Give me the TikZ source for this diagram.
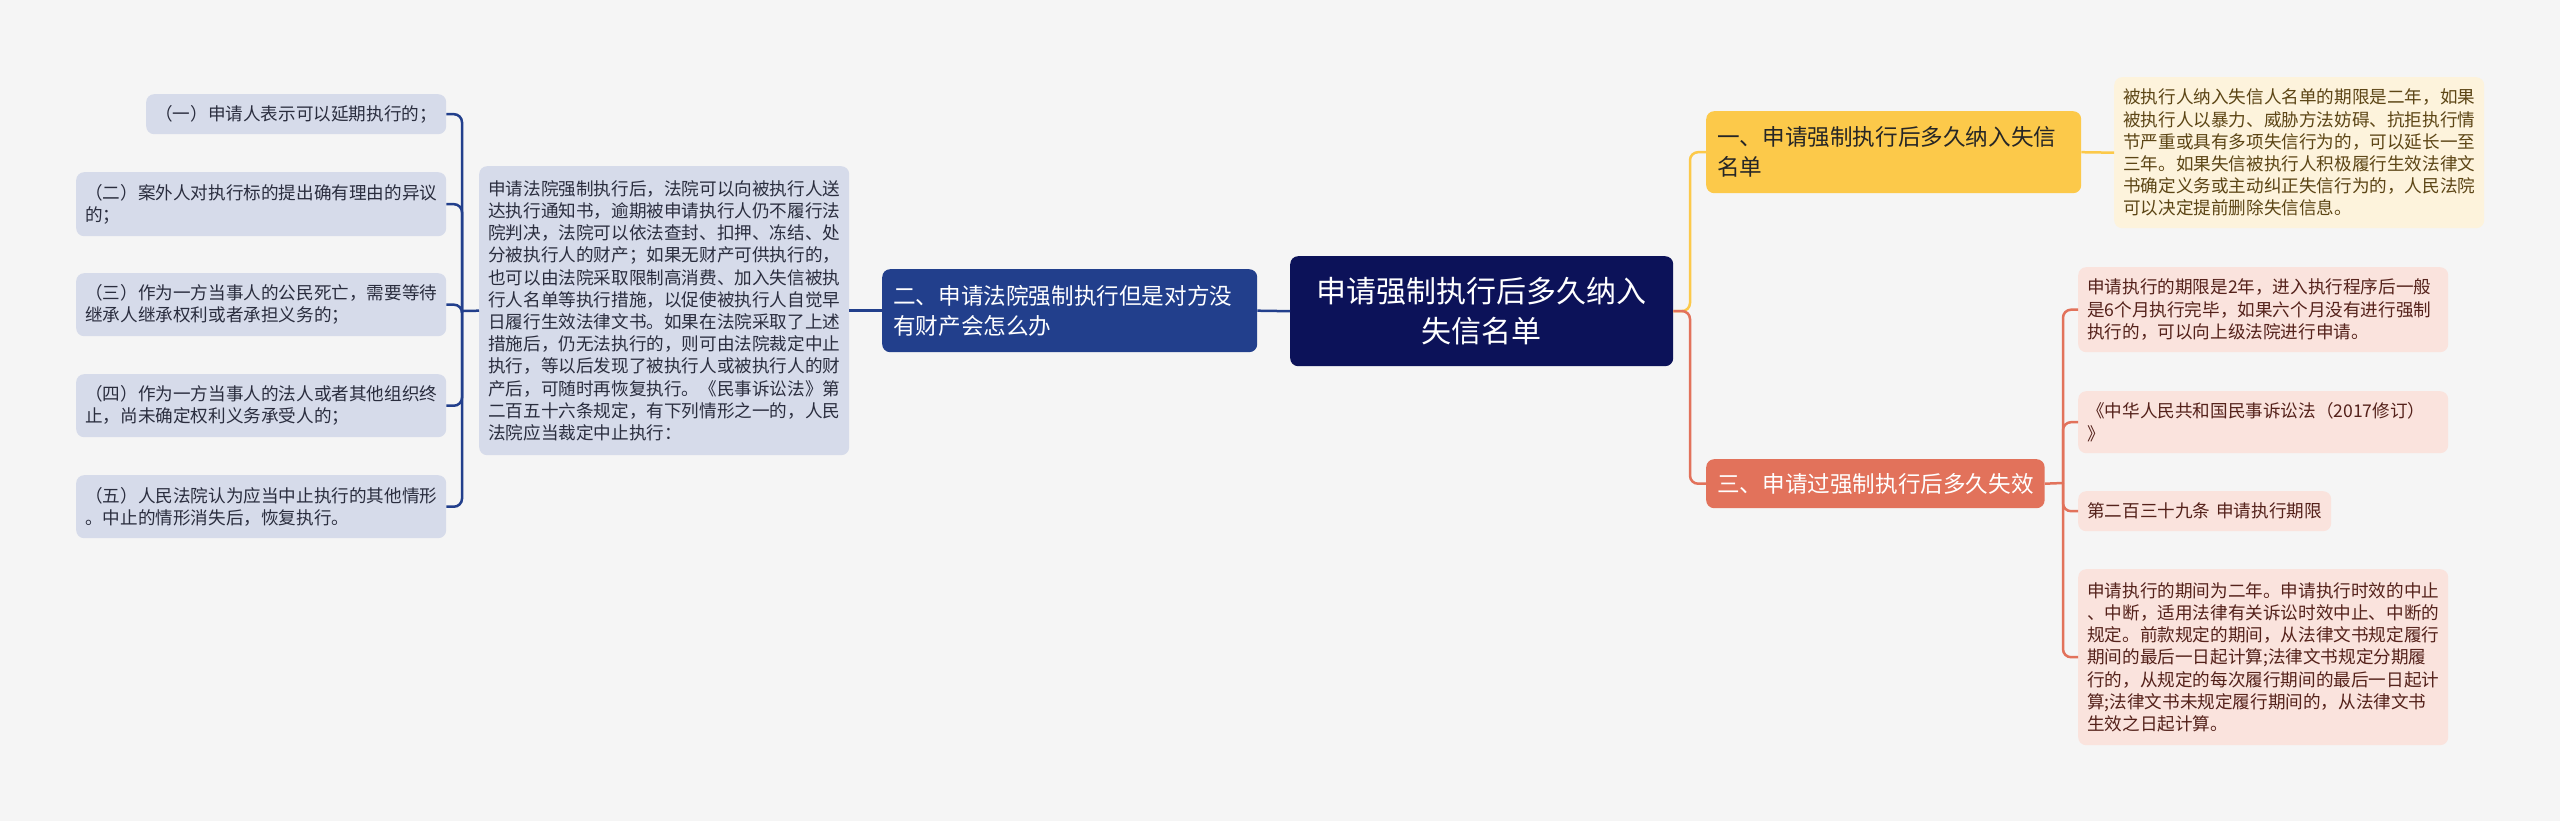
\documentclass[tikz,border=0pt]{standalone}
\usepackage{fontspec}
\setmainfont{Noto Sans CJK SC}
\definecolor{bg}{HTML}{F5F5F5}
\definecolor{navy}{HTML}{0C1259}
\definecolor{bluebr}{HTML}{223F8C}
\definecolor{lav}{HTML}{D6DBEA}
\definecolor{lavtxt}{HTML}{2A2D3E}
\definecolor{ybr}{HTML}{FCC94A}
\definecolor{yleaf}{HTML}{FDF3DC}
\definecolor{ytxt}{HTML}{5C4515}
\definecolor{rbr}{HTML}{E2725B}
\definecolor{rleaf}{HTML}{FAE3DD}
\definecolor{rtxt}{HTML}{54211A}
\begin{document}
\begin{tikzpicture}[x=1pt,y=-1pt,
  box/.style={rounded corners=8pt, inner ysep=0pt, inner xsep=9pt, anchor=north west, align=left},
  small/.style={font=\fontsize{17.6}{22.2}\selectfont, text width=352pt},
  mid/.style={font=\fontsize{22.6}{30}\selectfont, inner xsep=11pt},
  lavbox/.style={box, small, fill=lav, text=lavtxt},
  redbox/.style={box, small, fill=rleaf, text=rtxt},
  bline/.style={draw=bluebr, line width=2.5pt, rounded corners=8pt},
  yline/.style={draw=ybr, line width=2.5pt, rounded corners=8pt},
  rline/.style={draw=rbr, line width=2.5pt, rounded corners=8pt}]
\fill[bg] (0,0) rectangle (2560,821);
\useasboundingbox (0,0) rectangle (2560,821);
% centre and first level
\node[box, fill=navy, text=white, align=center, minimum width=383pt, minimum height=110pt,
  font=\fontsize{30}{40}\selectfont] (center) at (1290,256) {申请强制执行后多久纳入\\失信名单};
\node[box, mid, fill=bluebr, text=white, text width=353pt, minimum height=83pt] (b2) at (882,269)
  {二、申请法院强制执行但是对方没\\有财产会怎么办};
\node[box, mid, fill=ybr, text=black!85, text width=353pt, minimum height=82pt] (b1) at (1706,111)
  {一、申请强制执行后多久纳入失信\\名单};
\node[box, mid, fill=rbr, text=white, minimum height=49pt] (b3) at (1706,459)
  {三、申请过强制执行后多久失效};
% left side
\node[lavbox, minimum height=289pt] (big) at (479,166)
  {申请法院强制执行后，法院可以向被执行人送\\达执行通知书，逾期被申请执行人仍不履行法\\院判决，法院可以依法查封、扣押、冻结、处\\分被执行人的财产；如果无财产可供执行的，\\也可以由法院采取限制高消费、加入失信被执\\行人名单等执行措施，以促使被执行人自觉早\\日履行生效法律文书。如果在法院采取了上述\\措施后，仍无法执行的，则可由法院裁定中止\\执行，等以后发现了被执行人或被执行人的财\\产后，可随时再恢复执行。《民事诉讼法》第\\二百五十六条规定，有下列情形之一的，人民\\法院应当裁定中止执行：};
\node[lavbox, text width=282pt, minimum height=40pt] (l1) at (146,94) {（一）申请人表示可以延期执行的；};
\node[lavbox, minimum height=64pt] (l2) at (76,172) {（二）案外人对执行标的提出确有理由的异议\\的；};
\node[lavbox, minimum height=63pt] (l3) at (76,273) {（三）作为一方当事人的公民死亡，需要等待\\继承人继承权利或者承担义务的；};
\node[lavbox, minimum height=63pt] (l4) at (76,374) {（四）作为一方当事人的法人或者其他组织终\\止，尚未确定权利义务承受人的；};
\node[lavbox, minimum height=63pt] (l5) at (76,475) {（五）人民法院认为应当中止执行的其他情形\\。中止的情形消失后，恢复执行。};
\coordinate (lj) at (462,311);
\path[bline] (center.west) -- (b2.east);
\path[bline] (b2.west) -- (big.east);
\path[bline] (big.west) -- (lj);
\foreach \n in {1,...,5}
  \path[bline] (lj) |- (l\n.east);
% right side
\node[box, small, fill=yleaf, text=ytxt, minimum height=151pt] (y1) at (2114,77)
  {被执行人纳入失信人名单的期限是二年，如果\\被执行人以暴力、威胁方法妨碍、抗拒执行情\\节严重或具有多项失信行为的，可以延长一至\\三年。如果失信被执行人积极履行生效法律文\\书确定义务或主动纠正失信行为的，人民法院\\可以决定提前删除失信信息。};
\node[redbox, minimum height=85pt] (r1) at (2078,267)
  {申请执行的期限是2年，进入执行程序后一般\\是6个月执行完毕，如果六个月没有进行强制\\执行的，可以向上级法院进行申请。};
\node[redbox, minimum height=62pt] (r2) at (2078,391) {《中华人民共和国民事诉讼法（2017修订）\\》};
\node[redbox, text width=235pt, minimum height=40pt] (r3) at (2078,491) {第二百三十九条 申请执行期限};
\node[redbox, minimum height=176pt] (r4) at (2078,569)
  {申请执行的期间为二年。申请执行时效的中止\\、中断，适用法律有关诉讼时效中止、中断的\\规定。前款规定的期间，从法律文书规定履行\\期间的最后一日起计算;法律文书规定分期履\\行的，从规定的每次履行期间的最后一日起计\\算;法律文书未规定履行期间的，从法律文书\\生效之日起计算。};
\coordinate (rj) at (1690,311);
\coordinate (rk) at (2063,483);
\path[yline] (center.east) -- (rj) |- (b1.west);
\path[rline] (center.east) -- (rj) |- (b3.west);
\path[yline] (b1.east) -- (y1.west);
\path[rline] (b3.east) -- (rk);
\foreach \n in {1,...,4}
  \path[rline] (rk) |- (r\n.west);
\end{tikzpicture}
\end{document}
